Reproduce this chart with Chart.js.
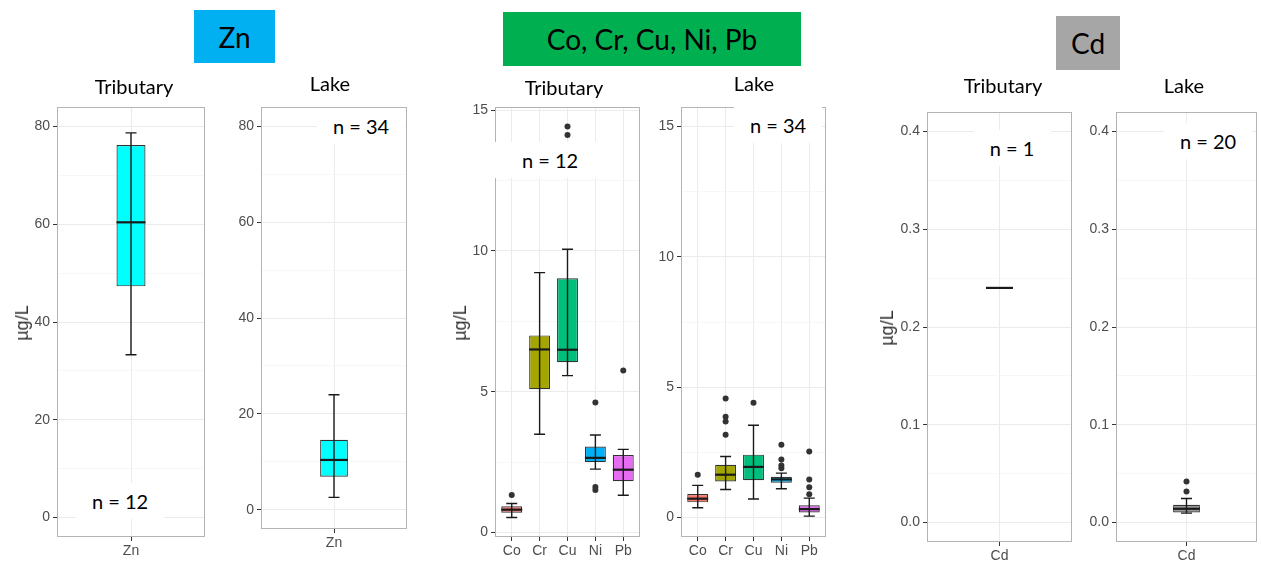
<!DOCTYPE html>
<html>
<head>
<meta charset="utf-8">
<script src="https://cdn.jsdelivr.net/npm/chart.js@4.4.1/dist/chart.umd.min.js"></script>
<style>
  body { margin:0; width:1261px; height:562px; overflow:hidden; background:#fff; position:relative; }
  canvas { position:absolute; }
  .hdr { position:absolute; display:flex; align-items:center; justify-content:center; font:28px Lato, sans-serif; color:#000; }
  .ttl { position:absolute; font:20px Lato, sans-serif; line-height:1; color:#000; transform:translate(-50%,-50%); white-space:nowrap; }
  .nlab { position:absolute; font:20px Lato, sans-serif; line-height:1; color:#000; background:#fff; padding:8px 16px; transform:translate(-50%,-50%); white-space:nowrap; }
  .ylab { position:absolute; font:18px "Liberation Sans", Arial, sans-serif; line-height:1; color:#333; transform:translate(-50%,-50%) rotate(-90deg); white-space:nowrap; }
</style>
</head>
<body>
<canvas id="c1"></canvas><canvas id="c2"></canvas><canvas id="c3"></canvas>
<canvas id="c4"></canvas><canvas id="c5"></canvas><canvas id="c6"></canvas>

<div class="hdr" style="left:194px;top:10px;width:81px;height:53px;background:#00b0f0">Zn</div>
<div class="hdr" style="left:503px;top:12px;width:298px;height:54px;background:#00b050">Co, Cr, Cu, Ni, Pb</div>
<div class="hdr" style="left:1056px;top:16px;width:64px;height:54px;background:#a6a6a6">Cd</div>

<div class="ttl" style="left:134px;top:86px">Tributary</div>
<div class="ttl" style="left:330px;top:83px">Lake</div>
<div class="ttl" style="left:564px;top:87px">Tributary</div>
<div class="ttl" style="left:754px;top:83px">Lake</div>
<div class="ttl" style="left:1003px;top:85px">Tributary</div>
<div class="ttl" style="left:1184px;top:85px">Lake</div>

<div class="ylab" style="left:22px;top:323px">µg/L</div>
<div class="ylab" style="left:460px;top:323px">µg/L</div>
<div class="ylab" style="left:887px;top:328px">µg/L</div>

<div class="nlab" style="left:120px;top:501px">n = 12</div>
<div class="nlab" style="left:361px;top:126px">n = 34</div>
<div class="nlab" style="left:550px;top:160px;padding:8px 40px">n = 12</div>
<div class="nlab" style="left:778px;top:125px">n = 34</div>
<div class="nlab" style="left:1012px;top:148px">n = 1</div>
<div class="nlab" style="left:1208px;top:141px">n = 20</div>

<script>
// box stats per category: [low whisker, q1, median, q3, high whisker]
const znCats = ['Zn'];
const znTribBox = [[33.3, 47.3, 60.4, 76.2, 78.7]];
const znTribOut = [[]];
const znLakeBox = [[2.6, 6.9, 10.4, 14.6, 24.0]];
const znLakeOut = [[]];

const metalCats = ['Co', 'Cr', 'Cu', 'Ni', 'Pb'];
const metalTribBox = [
  [0.53, 0.70, 0.81, 0.93, 1.03],
  [3.49, 5.09, 6.50, 7.00, 9.23],
  [5.57, 6.05, 6.49, 9.03, 10.06],
  [2.25, 2.50, 2.65, 3.05, 3.46],
  [1.32, 1.82, 2.23, 2.75, 2.95]
];
const metalTribOut = [[1.33], [], [14.42, 14.12], [4.62, 1.62, 1.51], [5.75]];
const metalLakeBox = [
  [0.37, 0.58, 0.72, 0.90, 1.23],
  [1.07, 1.38, 1.64, 2.02, 2.34],
  [0.71, 1.43, 1.94, 2.41, 3.54],
  [1.10, 1.33, 1.46, 1.56, 1.70],
  [0.05, 0.19, 0.32, 0.47, 0.74]
];
const metalLakeOut = [[1.64], [4.56, 3.86, 3.68, 3.17], [4.40], [2.79, 2.22, 1.99, 1.89], [2.53, 1.46, 1.16, 0.89]];

const cdCats = ['Cd'];
const cdTribBox = [[0.24, 0.24, 0.24, 0.24, 0.24]];
const cdTribOut = [[]];
const cdLakeBox = [[0.0095, 0.0102, 0.0140, 0.0180, 0.0245]];
const cdLakeOut = [[0.0419, 0.0317]];

const znTicks = [0, 20, 40, 60, 80];
const znMinor = [10, 30, 50, 70];
const metalTicks = [0, 5, 10, 15];
const metalMinor = [2.5, 7.5, 12.5];
const cdTicks = [0, 0.1, 0.2, 0.3, 0.4];
const cdMinor = [0.05, 0.15, 0.25, 0.35];

const metalFills = ['#f8766d', '#a3a500', '#00bf7d', '#00b0f6', '#e76bf3'];

const YW = 56, XH = 28, PT = 14, PR = 3;
const tickFont = { family: '"Liberation Sans", Arial, sans-serif', size: 14 };

const panels = [
  { id:'c1', cats:znCats, box:znTribBox, out:znTribOut, fill:['#00ffff'], ticks:znTicks, minor:znMinor, ymin:-4, ymax:84, fmt:v=>String(v), bar:0.196, L:57, R:205, T:107, B:537 },
  { id:'c2', cats:znCats, box:znLakeBox, out:znLakeOut, fill:['#00ffff'], ticks:znTicks, minor:znMinor, ymin:-4, ymax:84, fmt:v=>String(v), bar:0.19, L:261, R:407, T:107, B:529 },
  { id:'c3', cats:metalCats, box:metalTribBox, out:metalTribOut, fill:metalFills, ticks:metalTicks, minor:metalMinor, ymin:-0.16, ymax:15.11, fmt:v=>String(v), bar:0.75, L:495, R:641, T:107, B:537 },
  { id:'c4', cats:metalCats, box:metalLakeBox, out:metalLakeOut, fill:metalFills, ticks:metalTicks, minor:metalMinor, ymin:-0.75, ymax:15.75, fmt:v=>String(v), bar:0.75, L:681, R:827, T:107, B:537 },
  { id:'c5', cats:cdCats, box:cdTribBox, out:cdTribOut, fill:['#999999'], ticks:cdTicks, minor:cdMinor, ymin:-0.02, ymax:0.42, fmt:v=>v.toFixed(1), bar:0.186, L:927, R:1072, T:112, B:542 },
  { id:'c6', cats:cdCats, box:cdLakeBox, out:cdLakeOut, fill:['#999999'], ticks:cdTicks, minor:cdMinor, ymin:-0.02, ymax:0.42, fmt:v=>v.toFixed(1), bar:0.19, L:1116, R:1258, T:112, B:542 }
];

function isMinor(p, v) { return p.minor.some(m => Math.abs(m - v) < 1e-9); }

function whiskerPlugin(p) {
  return {
    id: 'whiskers',
    afterDatasetsDraw(chart) {
      const ctx = chart.ctx, y = chart.scales.y;
      const bars = chart.getDatasetMeta(0).data;
      ctx.save();
      ctx.strokeStyle = '#1a1a1a';
      p.box.forEach((b, i) => {
        const el = bars[i];
        const x = el.x, hw = el.width / 2;
        const yl = y.getPixelForValue(b[0]), yh = y.getPixelForValue(b[4]);
        if (b[0] !== b[4]) {
          ctx.lineWidth = 1.4;
          ctx.beginPath();
          ctx.moveTo(x, yl); ctx.lineTo(x, yh);
          ctx.moveTo(x - 5.5, yl); ctx.lineTo(x + 5.5, yl);
          ctx.moveTo(x - 5.5, yh); ctx.lineTo(x + 5.5, yh);
          ctx.stroke();
        }
        const ym = y.getPixelForValue(b[2]);
        ctx.lineWidth = 2.2;
        ctx.beginPath();
        ctx.moveTo(x - hw, ym); ctx.lineTo(x + hw, ym);
        ctx.stroke();
      });
      ctx.restore();
    }
  };
}

const framePlugin = {
  id: 'frame',
  afterDraw(chart) {
    const { ctx, chartArea: a } = chart;
    ctx.save();
    ctx.strokeStyle = '#b3b3b3';
    ctx.lineWidth = 1;
    ctx.strokeRect(a.left + 0.5, a.top + 0.5, a.right - a.left - 1, a.bottom - a.top - 1);
    ctx.restore();
  }
};

panels.forEach(p => {
  const cvs = document.getElementById(p.id);
  const w = p.R - p.L + YW + PR, h = p.B - p.T + PT + XH;
  cvs.width = w; cvs.height = h;
  cvs.style.left = (p.L - YW) + 'px';
  cvs.style.top = (p.T - PT) + 'px';
  cvs.style.width = w + 'px'; cvs.style.height = h + 'px';

  const outPts = [];
  p.out.forEach((arr, i) => arr.forEach(v => outPts.push({ x: i, y: v })));

  new Chart(cvs, {
    type: 'bar',
    data: {
      datasets: [
        {
          type: 'bar',
          data: p.box.map((b, i) => ({ x: i, y: [b[1], b[3]] })),
          backgroundColor: p.fill,
          borderColor: '#333333',
          borderWidth: 1.2,
          borderSkipped: false,
          barPercentage: p.bar,
          categoryPercentage: 1
        },
        {
          type: 'scatter',
          data: outPts,
          pointRadius: 3,
          pointBackgroundColor: '#333333',
          pointBorderWidth: 0
        }
      ]
    },
    options: {
      responsive: false,
      animation: false,
      devicePixelRatio: 1,
      layout: { padding: { left: 0, top: PT, right: PR, bottom: 0 } },
      plugins: { legend: { display: false }, tooltip: { enabled: false } },
      scales: {
        x: {
          type: 'linear',
          min: -0.6, max: p.cats.length - 0.4,
          offset: false,
          afterBuildTicks: s => { s.ticks = p.cats.map((c, i) => ({ value: i })); },
          afterFit: s => { s.height = XH; },
          ticks: { callback: v => p.cats[v], font: tickFont, color: '#4d4d4d', padding: 2, maxRotation: 0, autoSkip: false },
          grid: { offset: false, color: '#ebebeb', lineWidth: 1, tickColor: '#333333', tickLength: 4 },
          border: { display: false }
        },
        y: {
          type: 'linear',
          min: p.ymin, max: p.ymax,
          afterBuildTicks: s => { s.ticks = p.ticks.concat(p.minor).sort((a, b) => a - b).map(v => ({ value: v })); },
          afterFit: s => { s.width = YW; },
          ticks: { callback: v => isMinor(p, v) ? '' : p.fmt(v), font: tickFont, color: '#4d4d4d', padding: 3 },
          grid: {
            color: c => (c.tick && isMinor(p, c.tick.value)) ? '#f4f4f4' : '#ebebeb',
            lineWidth: c => (c.tick && isMinor(p, c.tick.value)) ? 0.7 : 1,
            tickColor: c => (c.tick && isMinor(p, c.tick.value)) ? 'rgba(0,0,0,0)' : '#333333',
            tickLength: 4
          },
          border: { display: false }
        }
      }
    },
    plugins: [whiskerPlugin(p), framePlugin]
  });
});
</script>
</body>
</html>
